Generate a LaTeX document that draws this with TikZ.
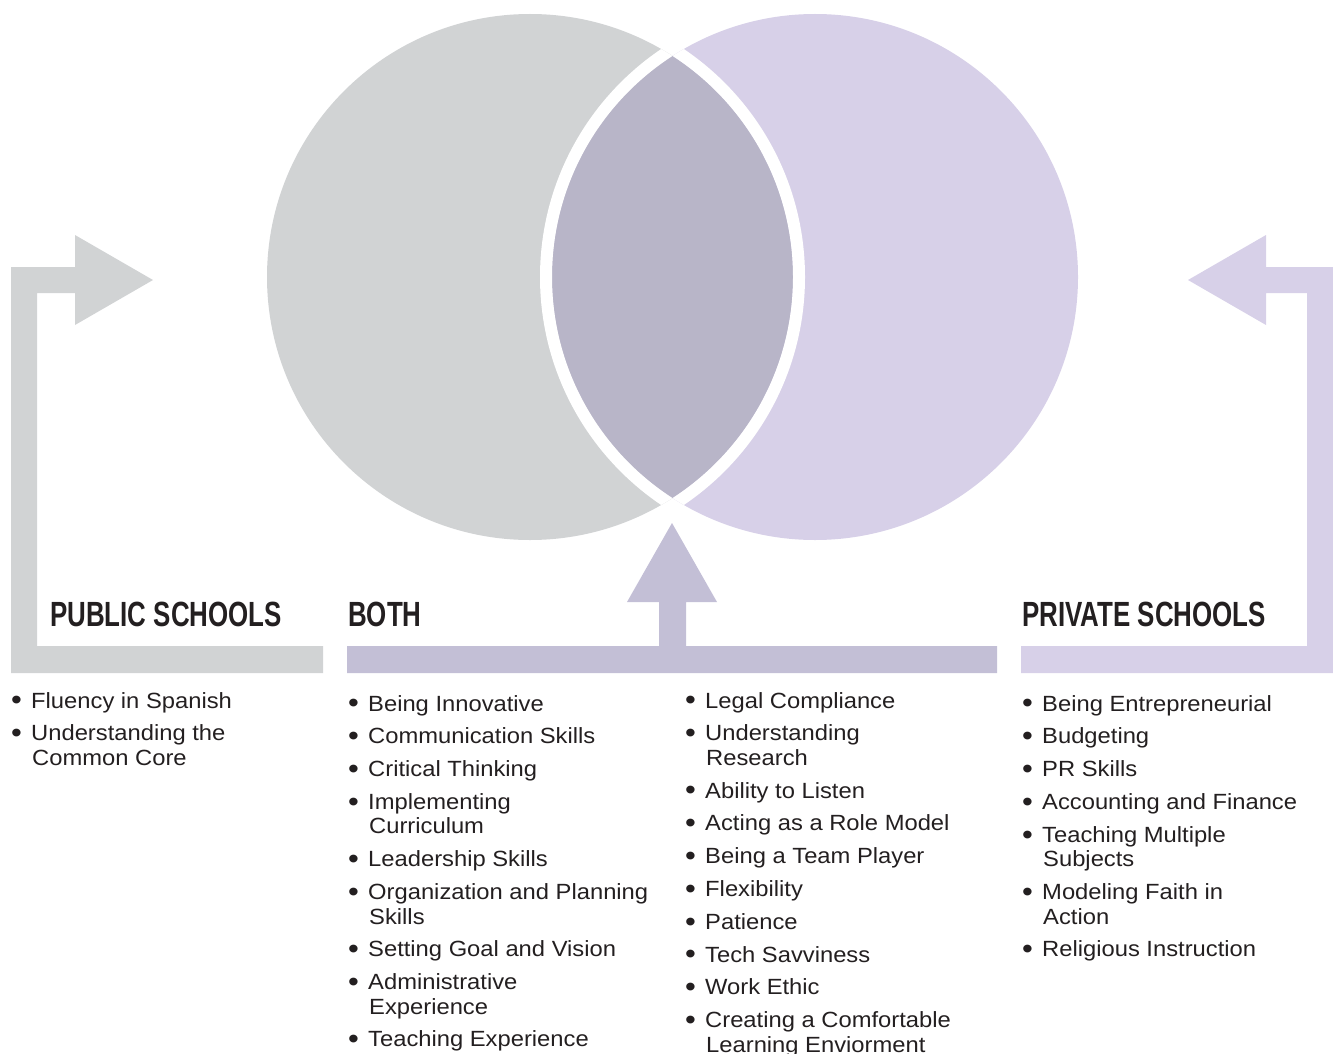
\documentclass[tikz,border=0pt]{standalone}
\usepackage{fontspec}
\usepackage{graphicx}
\setmainfont{Liberation Sans}
\newfontfamily\headfont[FakeStretch=0.74]{Liberation Sans}
\newfontfamily\listfont[FakeStretch=1.08]{Liberation Sans}
\definecolor{pubgray}{HTML}{D1D3D4}
\definecolor{privlav}{HTML}{D7D0E8}
\definecolor{lensgray}{HTML}{B8B5C8}
\definecolor{bothlav}{HTML}{C3BFD6}
\definecolor{txt}{HTML}{231F20}
\newcommand{\lstsetup}{\listfont\fontsize{22}{24.5}\selectfont\spaceskip=6.6pt\setlength{\parskip}{8.3pt}}
\newcommand{\itm}[1]{\hangindent=21pt\hangafter=1\makebox[20pt][l]{\raisebox{-1.8pt}{\scalebox{1.3}{\textbullet}}}#1\par}
\begin{document}
\begin{tikzpicture}[x=1pt, y=-1pt,
    head/.style = {anchor=base west, inner sep=0pt, text=txt, font=\headfont\bfseries\fontsize{35}{40}\selectfont},
    list/.style = {anchor=base west, inner sep=0pt, text=txt, text width=330pt, align=left}]
    \useasboundingbox (0,0) rectangle (1333,1054);

    % circles
    \coordinate (pubc)  at (530,277);
    \coordinate (privc) at (815,277);
    \fill[pubgray] (pubc) circle (263pt);
    \fill[privlav] (privc) circle (263pt);
    \begin{scope}
        \clip (pubc) circle (263pt);
        \fill[lensgray] (privc) circle (263pt);
        \draw[white, line width=12pt] (privc) circle (269pt);
    \end{scope}
    \begin{scope}
        \clip (privc) circle (263pt);
        \draw[white, line width=12pt] (pubc) circle (269pt);
    \end{scope}

    % arrows
    \fill[pubgray] (11,673) -- (323,673) -- (323,646) -- (37,646) -- (37,293) -- (75,293)
        -- (75,325) -- (153,280) -- (75,235) -- (75,267) -- (11,267) -- cycle;
    \fill[privlav] (1333,673) -- (1021,673) -- (1021,646) -- (1307,646) -- (1307,293) -- (1266,293)
        -- (1266,325) -- (1188,280) -- (1266,235) -- (1266,267) -- (1333,267) -- cycle;
    \fill[bothlav] (347,673) -- (997,673) -- (997,646) -- (686,646) -- (686,602) -- (717,602)
        -- (672,523) -- (627,602) -- (659,602) -- (659,646) -- (347,646) -- cycle;

    % headings
    \node[head] (pubhead)  at (50,626)   {PUBLIC SCHOOLS};
    \node[head] (bothhead) at (348,626)  {BOTH};
    \node[head] (privhead) at (1022,626) {PRIVATE SCHOOLS};

    % lists
    \node[list] (publist) at (11,708) {\lstsetup
        \itm{Fluency in Spanish}
        \itm{Understanding the\newline Common Core}};
    \node[list] (bothlistA) at (348,711) {\lstsetup
        \itm{Being Innovative}
        \itm{Communication Skills}
        \itm{Critical Thinking}
        \itm{Implementing\newline Curriculum}
        \itm{Leadership Skills}
        \itm{Organization and Planning\newline Skills}
        \itm{Setting Goal and Vision}
        \itm{Administrative\newline Experience}
        \itm{Teaching Experience}};
    \node[list] (bothlistB) at (685,708) {\lstsetup
        \itm{Legal Compliance}
        \itm{Understanding\newline Research}
        \itm{Ability to Listen}
        \itm{Acting as a Role Model}
        \itm{Being a Team Player}
        \itm{Flexibility}
        \itm{Patience}
        \itm{Tech Savviness}
        \itm{Work Ethic}
        \itm{Creating a Comfortable\newline Learning Enviorment}};
    \node[list] (privlist) at (1022,711) {\lstsetup
        \itm{Being Entrepreneurial}
        \itm{Budgeting}
        \itm{PR Skills}
        \itm{Accounting and Finance}
        \itm{Teaching Multiple\newline Subjects}
        \itm{Modeling Faith in\newline Action}
        \itm{Religious Instruction}};
\end{tikzpicture}
\end{document}
